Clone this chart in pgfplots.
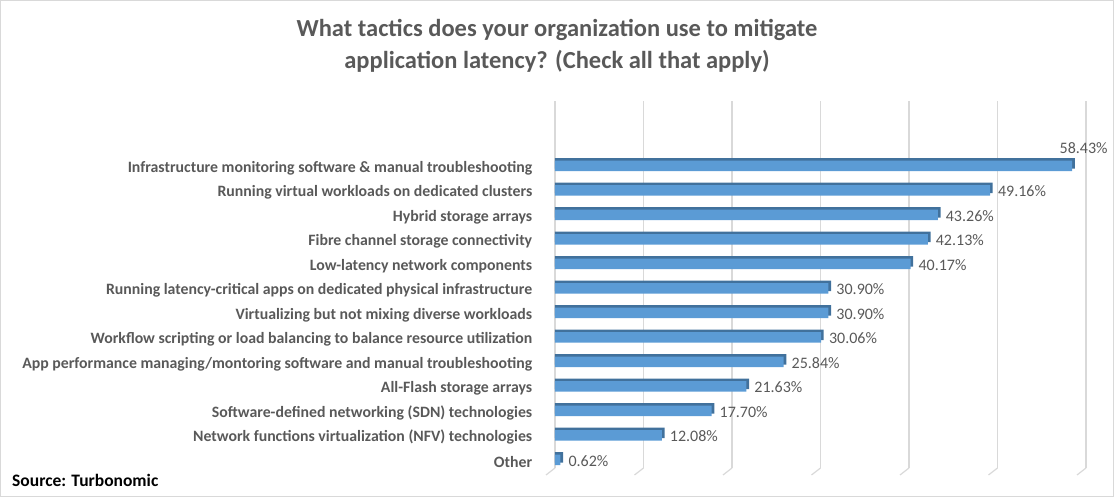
\documentclass[border=0pt]{standalone}
\usepackage{pgfplots}
\pgfplotsset{compat=1.18}
\usepackage{pgfplotstable}
\usepackage{fontspec}
\setmainfont{Carlito}
\definecolor{txt}{HTML}{595959}
\definecolor{barfront}{HTML}{5B9BD5}
\definecolor{barside}{HTML}{41719C}
\definecolor{gridc}{HTML}{D9D9D9}
\pgfplotstableread{
idx v dx dy
0 0.62 4.5 -1
1 12.08 4.5 -1
2 17.70 4.5 -1
3 21.63 4.5 -1
4 25.84 4.5 -1
5 30.06 4.5 -1
6 30.90 4.5 -1
7 30.90 4.5 -1
8 40.17 4.5 -1
9 42.13 4.5 -1
10 43.26 4.5 -1
11 49.16 4.5 -1
12 58.43 -16 18
}\data
\begin{document}
\begin{tikzpicture}
\useasboundingbox (0,0) rectangle (1114pt,497pt);
\draw[gridc, line width=1.2pt] (0.6pt,0.6pt) rectangle (1113.4pt,496.4pt);
\node[txt, font=\fontsize{24.5}{28}\selectfont\bfseries] at (557pt,467pt) {What tactics does your organization use to mitigate};
\node[txt, font=\fontsize{24.5}{28}\selectfont\bfseries] at (557pt,436pt) {application latency? (Check all that apply)};
\node[black, anchor=west, inner sep=0pt, font=\fontsize{17.5}{20}\selectfont\bfseries] at (12pt,17pt) {Source: Turbonomic};
\begin{axis}[
  at={(555pt,29pt)}, anchor=south west,
  scale only axis, width=531pt, height=367pt,
  xmin=0, xmax=60, ymin=-0.33, ymax=14.65,
  xbar, bar width=10.5pt,
  axis line style={draw=none},
  tick style={draw=none},
  xtick={0,10,...,60}, xticklabels={},
  xmajorgrids, major grid style={gridc, line width=1.2pt},
  ytick={0,...,12},
  yticklabels={{Other},
    {Network functions virtualization (NFV) technologies},
    {Software-defined networking (SDN) technologies},
    {All-Flash storage arrays},
    {App performance managing/montoring software and manual troubleshooting\ },
    {Workflow scripting or load balancing to balance resource utilization},
    {Virtualizing but not mixing diverse workloads},
    {Running latency-critical apps on dedicated physical infrastructure},
    {Low-latency network components},
    {Fibre channel storage connectivity},
    {Hybrid storage arrays},
    {Running virtual workloads on dedicated clusters},
    {Infrastructure monitoring software \& manual troubleshooting}},
  yticklabel style={anchor=east, xshift=-15pt, yshift=-2pt, text=txt, font=\fontsize{15.8}{18}\selectfont\bfseries},
  clip=false,
]
\pgfplotsinvokeforeach{0,10,...,60}{
  \draw[gridc, line width=1.2pt] (axis cs:#1,-0.33) -- ++(-9pt,-7pt);
}
\addplot[fill=barside, draw=none, bar shift=0pt] table[x expr=\thisrow{v}+0.3, y expr=\thisrow{idx}+0.1] {\data};
\addplot[fill=barfront, draw=none, bar shift=0pt,
  visualization depends on={\thisrow{dx} \as \dx},
  visualization depends on={\thisrow{dy} \as \dy},
  nodes near coords={\pgfmathprintnumber[fixed,fixed zerofill,precision=2,assume math mode=true]{\pgfplotspointmeta}\%},
  nodes near coords style={anchor=west, xshift=\dx pt, yshift=\dy pt, text=txt, font=\fontsize{16}{18}\selectfont},
  point meta=x] table[x=v, y=idx] {\data};
\end{axis}
\end{tikzpicture}
\end{document}
